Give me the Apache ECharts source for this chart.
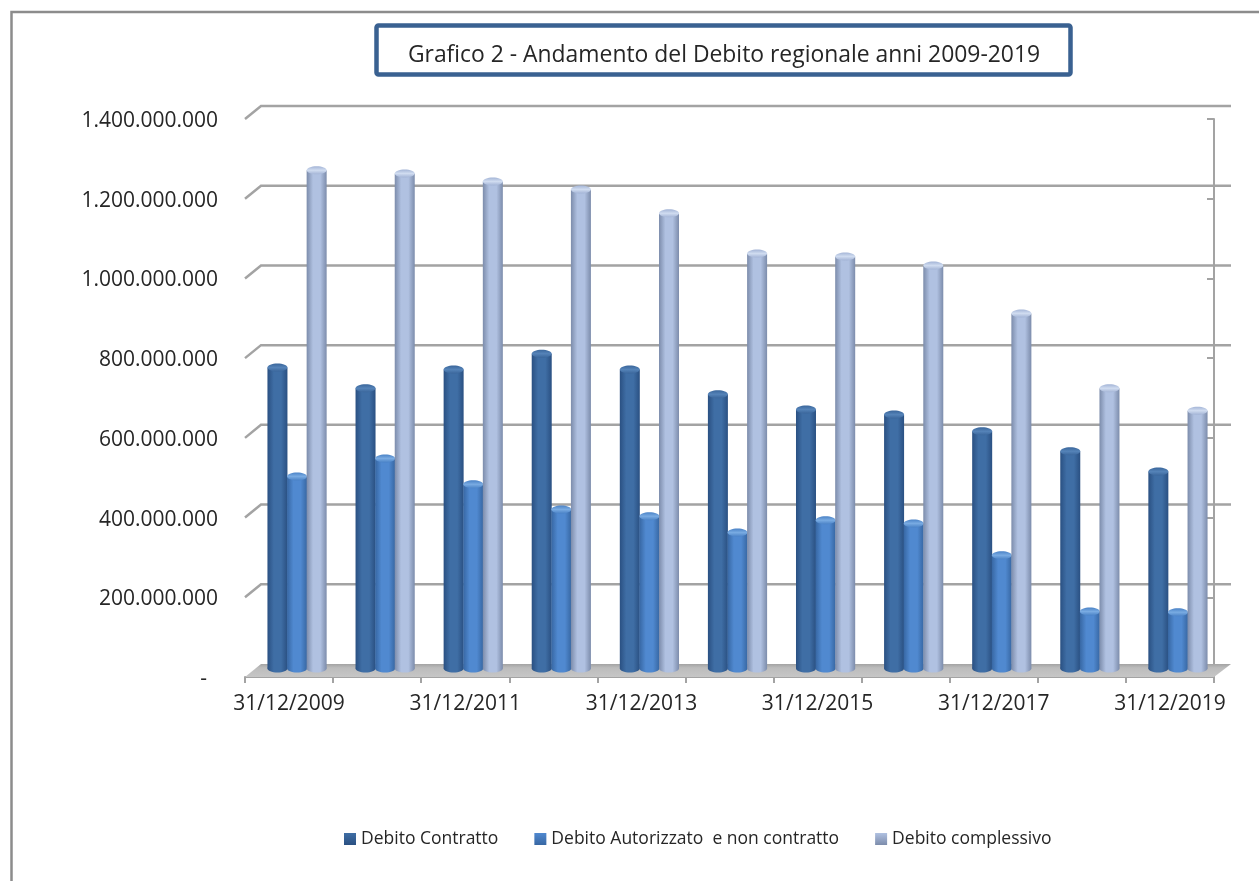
<!DOCTYPE html>
<html><head><meta charset="utf-8">
<style>html,body{margin:0;padding:0;background:#fff}#c{width:1259px;height:881px}</style>
<script src="https://cdn.jsdelivr.net/npm/echarts@6/dist/echarts.min.js"></script>
</head><body><div id="c"></div>
<script>
const categories = ['31/12/2009','31/12/2010','31/12/2011','31/12/2012','31/12/2013','31/12/2014','31/12/2015','31/12/2016','31/12/2017','31/12/2018','31/12/2019'];
const debitoContratto = [760,708,755,795,755,693,655,642,600,550,499].map(v=>v*1e6);
const debitoAutorizzato = [487,532,467,404,387,346,377,369,289,148,146].map(v=>v*1e6);
const debitoComplessivo = [1255,1247,1227,1207,1147,1046,1039,1016,896,708,652].map(v=>v*1e6);
const gridValues = [0,200e6,400e6,600e6,800e6,1000e6,1200e6,1400e6];

const DEPTH_X = 16, DEPTH_Y = 13, BAR_W = 20, CAP_RY = 4;
const palette = [
  {edge:'#2a5082', mid:'#3f6ea5', cap:'#5583b8', capEdge:'#3a669b'},
  {edge:'#3767a3', mid:'#5089d0', cap:'#79abe2', capEdge:'#4a82c6'},
  {edge:'#7c8cab', mid:'#b0c1e1', cap:'#d0dcf0', capEdge:'#a3b4d6'}
];
function hGrad(p){return {type:'linear',x:0,y:0,x2:1,y2:0,colorStops:[
  {offset:0,color:p.edge},{offset:.32,color:p.mid},{offset:.68,color:p.mid},{offset:1,color:p.edge}]};}
function cylinder(si){
  return function(params,api){
    const c = api.coord([api.value(0),api.value(1)]);
    const b = api.coord([api.value(0),0]);
    const p = palette[si];
    const x = c[0] + DEPTH_X/2 + (si-1)*(BAR_W-0.4) - BAR_W/2;
    const top = c[1] - DEPTH_Y/2 , base = b[1] - DEPTH_Y/2 - 2;
    return {type:'group',children:[
      {type:'ellipse',shape:{cx:x+BAR_W/2,cy:base,rx:BAR_W/2,ry:CAP_RY},style:{fill:hGrad(p)}},
      {type:'rect',shape:{x:x,y:top,width:BAR_W,height:base-top},style:{fill:hGrad(p)}},
      {type:'ellipse',shape:{cx:x+BAR_W/2,cy:top,rx:BAR_W/2,ry:CAP_RY},
        style:{fill:{type:'linear',x:0,y:0,x2:0,y2:1,colorStops:[{offset:0,color:p.capEdge},{offset:.5,color:p.cap},{offset:1,color:p.capEdge}]}}}
    ]};
  };
}
function walls(params,api){
  const v = api.value(0);
  const size = api.size([1,0]);
  const a = api.coord([0,v]), x0 = a[0]-size[0]/2, y = a[1];
  const x1 = x0 + size[0]*categories.length;
  const line = {stroke:'#a3a3a3',lineWidth:2.5,fill:'none'};
  if (v === 0) {
    return {type:'group',children:[
      {type:'polygon',shape:{points:[[x0,y],[x0+DEPTH_X,y-DEPTH_Y],[x1+DEPTH_X+1,y-DEPTH_Y],[x1,y]]},
       style:{fill:{type:'linear',x:0,y:0,x2:0,y2:1,colorStops:[{offset:0,color:'#a3a3a3'},{offset:.3,color:'#bcbcbc'},{offset:1,color:'#c6c6c6'}]}}}
    ]};
  }
  return {type:'group',children:[
    {type:'polyline',shape:{points:[[x0,y],[x0+DEPTH_X,y-DEPTH_Y],[x1+DEPTH_X+1,y-DEPTH_Y]]},style:line}
  ]};
}
const fmt = v => '{a|' + (v === 0 ? '-\u00a0\u00a0' : String(v).replace(/\B(?=(\d{3})+$)/g,'.')) + '}';
const FONT = '"Open Sans"';
const chart = echarts.init(document.getElementById('c'),null,{renderer:'canvas'});
function legendColor(p){return {type:'linear',x:0,y:0,x2:0,y2:1,colorStops:[{offset:0,color:p.mid},{offset:1,color:p.edge}]};}
const names = ['Debito Contratto','Debito Autorizzato  e non contratto','Debito complessivo'];
const seriesData = [debitoContratto,debitoAutorizzato,debitoComplessivo];
chart.setOption({
  animation:false,
  backgroundColor:'#fff',
  title:{text:'Grafico 2 - Andamento del Debito regionale anni 2009-2019',left:719,top:39,textAlign:'center',
    textStyle:{fontFamily:FONT,fontSize:22.9,fontWeight:'normal',color:'#262626'}},
  legend:{data:names,left:339,top:825,itemWidth:12,itemHeight:12,itemGap:36,icon:'rect',
    textStyle:{fontFamily:FONT,fontSize:17.5,color:'#262626'}},
  grid:{left:245,right:45,top:119,bottom:204,containLabel:false},
  xAxis:{type:'category',data:categories,boundaryGap:true,
    axisLine:{show:true,lineStyle:{color:'#a3a3a3',width:2}},
    axisTick:{show:true,alignWithLabel:false,length:6,interval:0,lineStyle:{color:'#a3a3a3',width:2}},
    axisLabel:{interval:1,margin:17,fontFamily:FONT,fontSize:21,color:'#262626',hideOverlap:false},
    splitLine:{show:false}},
  yAxis:[
    {type:'value',min:0,max:1400e6,interval:200e6,position:'left',
     axisLine:{show:false},axisTick:{show:false},splitLine:{show:false},
     axisLabel:{formatter:fmt,margin:27,
       rich:{a:{fontFamily:FONT,fontSize:21,color:'#262626',padding:[4,0,0,0]}}}},
    {type:'value',min:0,max:1400e6,interval:200e6,position:'right',
     axisLine:{show:true,lineStyle:{color:'#a3a3a3',width:2}},
     axisTick:{show:true,inside:true,length:7,lineStyle:{color:'#a3a3a3',width:2}},
     axisLabel:{show:false},splitLine:{show:false}}
  ],
  series:[
    {type:'custom',name:'walls',silent:true,z:1,renderItem:walls,data:gridValues.map(v=>[v]),encode:{y:0},clip:false},
    ...names.map((n,i)=>({type:'custom',name:n,z:3,clip:false,renderItem:cylinder(i),
      itemStyle:{color:legendColor(palette[i])},
      data:seriesData[i].map((v,k)=>[k,v]),encode:{x:0,y:1}}))
  ],
  graphic:[
    {type:'polyline',silent:true,z:-1,shape:{points:[[11.5,890],[11.5,12],[1259,12]]},style:{fill:'none',stroke:'#8c8c8c',lineWidth:2.5}},
    {type:'rect',silent:true,z:-1,shape:{x:376.5,y:25.5,width:694,height:49,r:2},style:{fill:'#fff',stroke:'#3a6191',lineWidth:4.5}}
  ]
});
</script></body></html>
